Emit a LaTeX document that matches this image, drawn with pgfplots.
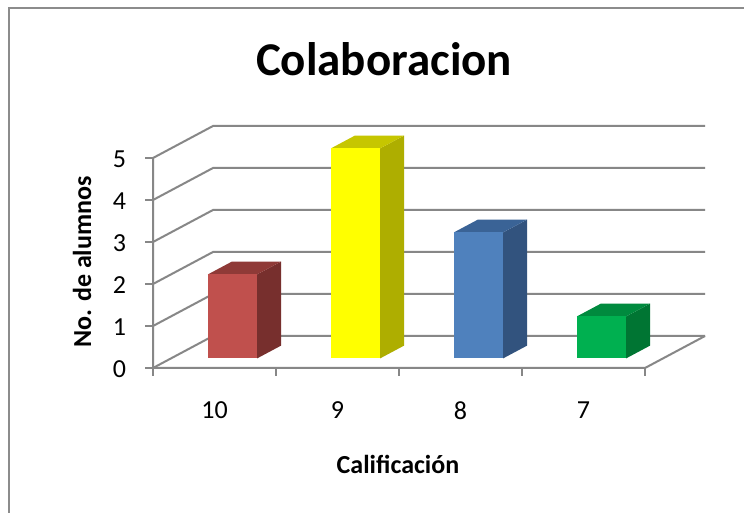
\documentclass[border=0pt]{standalone}
\usepackage{fontspec}
\setmainfont{Carlito}
\usepackage{pgfplots}
\pgfplotsset{compat=1.18}
\definecolor{gridc}{HTML}{878787}
\definecolor{framec}{HTML}{8C8C8C}
\definecolor{rF}{HTML}{C0504D}\definecolor{rS}{HTML}{772F2D}\definecolor{rT}{HTML}{8F3A37}
\definecolor{yF}{HTML}{FFFF00}\definecolor{yS}{HTML}{AEAE00}\definecolor{yT}{HTML}{C6C600}
\definecolor{bF}{HTML}{4F81BD}\definecolor{bS}{HTML}{32537E}\definecolor{bT}{HTML}{3A6396}
\definecolor{gF}{HTML}{00B050}\definecolor{gS}{HTML}{007533}\definecolor{gT}{HTML}{008A3E}
\begin{document}
\begin{tikzpicture}[x=0.4pt,y=0.4pt]
\useasboundingbox (0,0) rectangle (744,512);
\clip (0,0) rectangle (744,512);
\fill[white] (0,0) rectangle (744,512);
\draw[framec, line width=1.1pt] (9,-20) -- (9,504) -- (780,504);
\node[font=\bfseries\fontsize{18.8}{22}\selectfont, anchor=base, inner sep=0pt] at (384,436) {Colaboracion};
\node[font=\bfseries\fontsize{10.4}{12}\selectfont, anchor=base, inner sep=0pt] at (398,39) {Calificación};
\node[font=\bfseries\fontsize{10.4}{12}\selectfont, rotate=90, anchor=base, inner sep=0pt] at (91,250) {No. de alumnos};
\begin{axis}[
  anchor=origin, at={(61.2pt,57.6pt)},
  x={(49.2pt,0pt)}, y={(24pt,12.8pt)}, z={(0pt,16.8pt)},
  xmin=0, xmax=4, ymin=0, ymax=1, zmin=0, zmax=5,
  hide axis, clip=false, disabledatascaling]
% grid: left wall diagonals and back wall lines
\pgfplotsinvokeforeach{0,1,2,3,4,5}{
  \addplot3[gridc, line width=0.8pt] coordinates {(0,0,#1) (0,1,#1) (4,1,#1)};
  \addplot3[gridc, line width=0.8pt] coordinates {(0,0,#1) (-0.065,0,#1)};
  \node[font=\fontsize{10.4}{12}\selectfont, anchor=east, inner sep=0pt, xshift=-10.6pt, yshift=-0.6pt] at (axis cs:0,0,#1) {#1};
}
% front axis and floor
\addplot3[gridc, line width=0.8pt] coordinates {(0,0,5) (0,0,0) (4,0,0) (4,1,0)};
\pgfplotsinvokeforeach{0,1,2,3,4}{
  \addplot3[gridc, line width=0.8pt] coordinates {(#1,0,0) (#1,0,-0.19)};
}
\node[font=\fontsize{10.4}{12}\selectfont, inner sep=0pt, yshift=-17pt] at (axis cs:0.5,0,0) {10};
\node[font=\fontsize{10.4}{12}\selectfont, inner sep=0pt, yshift=-17pt] at (axis cs:1.5,0,0) {9};
\node[font=\fontsize{10.4}{12}\selectfont, inner sep=0pt, yshift=-17pt] at (axis cs:2.5,0,0) {8};
\node[font=\fontsize{10.4}{12}\selectfont, inner sep=0pt, yshift=-17pt] at (axis cs:3.5,0,0) {7};
% bar 10: value 2
\addplot3[fill=rS, draw=none] coordinates {(0.7,0.3,0) (0.7,0.7,0) (0.7,0.7,2) (0.7,0.3,2)};
\addplot3[fill=rT, draw=none] coordinates {(0.3,0.3,2) (0.7,0.3,2) (0.7,0.7,2) (0.3,0.7,2)};
\addplot3[fill=rF, draw=none] coordinates {(0.3,0.3,0) (0.7,0.3,0) (0.7,0.3,2) (0.3,0.3,2)};
% bar 9: value 5
\addplot3[fill=yS, draw=none] coordinates {(1.7,0.3,0) (1.7,0.7,0) (1.7,0.7,5) (1.7,0.3,5)};
\addplot3[fill=yT, draw=none] coordinates {(1.3,0.3,5) (1.7,0.3,5) (1.7,0.7,5) (1.3,0.7,5)};
\addplot3[fill=yF, draw=none] coordinates {(1.3,0.3,0) (1.7,0.3,0) (1.7,0.3,5) (1.3,0.3,5)};
% bar 8: value 3
\addplot3[fill=bS, draw=none] coordinates {(2.7,0.3,0) (2.7,0.7,0) (2.7,0.7,3) (2.7,0.3,3)};
\addplot3[fill=bT, draw=none] coordinates {(2.3,0.3,3) (2.7,0.3,3) (2.7,0.7,3) (2.3,0.7,3)};
\addplot3[fill=bF, draw=none] coordinates {(2.3,0.3,0) (2.7,0.3,0) (2.7,0.3,3) (2.3,0.3,3)};
% bar 7: value 1
\addplot3[fill=gS, draw=none] coordinates {(3.7,0.3,0) (3.7,0.7,0) (3.7,0.7,1) (3.7,0.3,1)};
\addplot3[fill=gT, draw=none] coordinates {(3.3,0.3,1) (3.7,0.3,1) (3.7,0.7,1) (3.3,0.7,1)};
\addplot3[fill=gF, draw=none] coordinates {(3.3,0.3,0) (3.7,0.3,0) (3.7,0.3,1) (3.3,0.3,1)};
\end{axis}
\end{tikzpicture}
\end{document}
